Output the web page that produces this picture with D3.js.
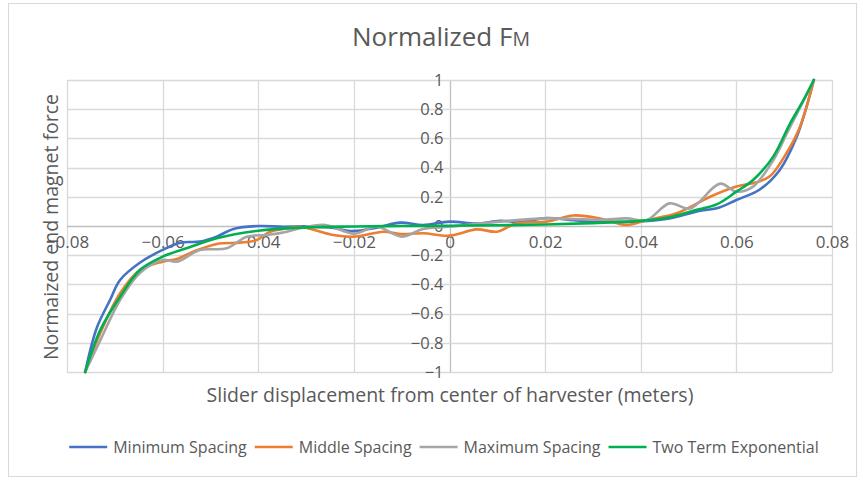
<!DOCTYPE html>
<html>
<head>
<meta charset="utf-8">
<script src="https://cdn.jsdelivr.net/npm/d3@7"></script>
<style>
  body { margin: 0; background: #fff; }
  text { font-family: "Open Sans", sans-serif; fill: #595959; }
</style>
</head>
<body>
<div id="vis"></div>
<script>
// Frame
const FRAME_WIDTH = 865;
const FRAME_HEIGHT = 479;
const MARGINS = {left: 67, right: 33, top: 80, bottom: 107};

const VIS_WIDTH = FRAME_WIDTH - MARGINS.left - MARGINS.right;
const VIS_HEIGHT = FRAME_HEIGHT - MARGINS.top - MARGINS.bottom;

// Data
const xTicks = [-0.08, -0.06, -0.04, -0.02, 0, 0.02, 0.04, 0.06, 0.08];
const yTicks = [-1, -0.8, -0.6, -0.4, -0.2, 0, 0.2, 0.4, 0.6, 0.8, 1];

const minX = [-0.0762, -0.0738, -0.0710, -0.0689, -0.0647, -0.0600, -0.0563, -0.0522, -0.0487, -0.0452,
  -0.0400, -0.0347, -0.0300, -0.0250, -0.0202, -0.0150, -0.0103, -0.0055, 0, 0.0057, 0.0106, 0.0150,
  0.0203, 0.0260, 0.0315, 0.0384, 0.0460, 0.0524, 0.0559, 0.0600, 0.0649, 0.0690, 0.0726, 0.0747, 0.0762];
const minY = [-1, -0.70, -0.507, -0.37, -0.25, -0.164, -0.114, -0.107, -0.073, -0.02,
  0.0, -0.005, -0.003, -0.01, -0.035, -0.01, 0.023, 0.007, 0.03, 0.016, 0.036, 0.028,
  0.055, 0.04, 0.03, 0.03, 0.052, 0.105, 0.121, 0.178, 0.25, 0.38, 0.61, 0.82, 1.0];

const midX = [-0.0762, -0.0730, -0.0689, -0.0647, -0.0600, -0.0570, -0.0536, -0.0487, -0.0438, -0.0403,
  -0.0375, -0.0340, -0.0313, -0.0243, -0.0200, -0.0138, -0.0103, -0.0055, 0, 0.0057, 0.0099, 0.0140,
  0.0203, 0.0259, 0.0315, 0.0370, 0.0412, 0.0475, 0.0545, 0.0600, 0.0642, 0.0670, 0.0705, 0.0733, 0.0762];
const midY = [-1, -0.73, -0.46, -0.30, -0.244, -0.226, -0.176, -0.123, -0.114, -0.096,
  -0.039, -0.016, -0.005, -0.062, -0.073, -0.039, -0.055, -0.05, -0.066, -0.023, -0.039, 0.018,
  0.03, 0.072, 0.052, 0.007, 0.04, 0.087, 0.20, 0.27, 0.30, 0.34, 0.50, 0.68, 1.0];

const maxX = [-0.0762, -0.0730, -0.0689, -0.0647, -0.0600, -0.0570, -0.0522, -0.0466, -0.0424, -0.0382,
  -0.0340, -0.0313, -0.0260, -0.0200, -0.0152, -0.0100, -0.0055, 0, 0.0106, 0.0203, 0.0315, 0.0370,
  0.0412, 0.0460, 0.0503, 0.0566, 0.0600, 0.0635, 0.0677, 0.0705, 0.0733, 0.0762];
const maxY = [-1, -0.78, -0.507, -0.32, -0.233, -0.244, -0.164, -0.153, -0.073, -0.062,
  -0.039, -0.016, 0.007, -0.052, -0.005, -0.073, -0.02, -0.005, 0.03, 0.052, 0.043, 0.052,
  0.04, 0.155, 0.12, 0.29, 0.235, 0.27, 0.45, 0.63, 0.81, 1.0];

const expX = [-0.0762, -0.0730, -0.0689, -0.0647, -0.0600, -0.0550, -0.0487, -0.0400, -0.0313, -0.0200,
  -0.0100, 0, 0.0100, 0.0200, 0.0300, 0.0400, 0.0460, 0.0510, 0.0560, 0.0600, 0.0635, 0.0677,
  0.0712, 0.0740, 0.0762];
const expY = [-1, -0.71, -0.484, -0.30, -0.21, -0.153, -0.084, -0.032, -0.011, -0.003,
  0.0, 0.002, 0.005, 0.01, 0.02, 0.035, 0.06, 0.105, 0.15, 0.235, 0.315, 0.475,
  0.70, 0.86, 1.0];

const seriesNames = ["Minimum Spacing", "Middle Spacing", "Maximum Spacing", "Two Term Exponential"];
const seriesColors = ["#4472C4", "#ED7D31", "#A5A5A5", "#00B050"];

const series = [
  {name: seriesNames[0], color: seriesColors[0], pts: d3.zip(minX, minY)},
  {name: seriesNames[1], color: seriesColors[1], pts: d3.zip(midX, midY)},
  {name: seriesNames[2], color: seriesColors[2], pts: d3.zip(maxX, maxY)},
  {name: seriesNames[3], color: seriesColors[3], pts: d3.zip(expX, expY)}
];

const FRAME = d3.select("#vis")
                .append("svg")
                  .attr("width", FRAME_WIDTH)
                  .attr("height", FRAME_HEIGHT);

// chart border
FRAME.append("rect")
      .attr("x", 8.5).attr("y", 3.5)
      .attr("width", 848).attr("height", 473)
      .attr("fill", "#fff")
      .attr("stroke", "#D9D9D9");

const X_SCALE = d3.scaleLinear()
                  .domain([-0.08, 0.08])
                  .range([0, VIS_WIDTH]);

const Y_SCALE = d3.scaleLinear()
                  .domain([-1, 1])
                  .range([VIS_HEIGHT, 0]);

const G = FRAME.append("g")
               .attr("transform", "translate(" + MARGINS.left + "," + MARGINS.top + ")");

// gridlines
G.selectAll(".vgrid")
  .data(xTicks)
  .enter()
  .append("line")
    .attr("x1", d => Math.round(X_SCALE(d)) + 0.5)
    .attr("x2", d => Math.round(X_SCALE(d)) + 0.5)
    .attr("y1", 0).attr("y2", VIS_HEIGHT)
    .attr("stroke", d => d === 0 ? "#BFBFBF" : "#D9D9D9")
    .attr("stroke-width", 1.3);

G.selectAll(".hgrid")
  .data(yTicks)
  .enter()
  .append("line")
    .attr("x1", 0).attr("x2", VIS_WIDTH)
    .attr("y1", d => Math.round(Y_SCALE(d)) + 0.5)
    .attr("y2", d => Math.round(Y_SCALE(d)) + 0.5)
    .attr("stroke", d => d === 0 ? "#BFBFBF" : "#D9D9D9")
    .attr("stroke-width", 1.3);

// x tick labels sit under the y=0 axis
const xAxis = G.append("g")
  .attr("transform", "translate(0," + Y_SCALE(0) + ")")
  .call(d3.axisBottom(X_SCALE).tickValues(xTicks).tickSize(0).tickPadding(10)
          .tickFormat(d => d3.format("")(+d.toFixed(2))));
xAxis.select(".domain").remove();
xAxis.selectAll("text")
  .attr("font-size", "17px")
  .attr("fill", "#595959")
  .attr("font-family", "Open Sans, sans-serif");

// y tick labels next to the x=0 axis
const yAxis = G.append("g")
  .attr("transform", "translate(" + X_SCALE(0) + ",0)")
  .call(d3.axisLeft(Y_SCALE).tickValues(yTicks).tickSize(0).tickPadding(6)
          .tickFormat(d => d3.format("")(+d.toFixed(1))));
yAxis.select(".domain").remove();
yAxis.selectAll("text")
  .attr("font-size", "16.5px")
  .attr("fill", "#595959")
  .attr("font-family", "Open Sans, sans-serif");

// series lines
const line = d3.line()
  .x(d => X_SCALE(d[0]))
  .y(d => Y_SCALE(d[1]))
  .curve(d3.curveCatmullRom.alpha(0.5));

G.selectAll(".series")
  .data(series)
  .enter()
  .append("path")
    .attr("d", d => line(d.pts))
    .attr("fill", "none")
    .attr("stroke", d => d.color)
    .attr("stroke-width", 2.6)
    .attr("stroke-linecap", "round")
    .attr("stroke-linejoin", "round");

// title
const title = FRAME.append("text")
  .attr("x", 441).attr("y", 46)
  .attr("text-anchor", "middle")
  .attr("font-size", "26px");
title.append("tspan").text("Normalized F");
title.append("tspan").attr("font-size", "19.5px").text("M");

// axis titles
FRAME.append("text")
  .attr("x", 450).attr("y", 402)
  .attr("text-anchor", "middle")
  .attr("font-size", "19.5px")
  .text("Slider displacement from center of harvester (meters)");

FRAME.append("text")
  .attr("transform", "translate(58,227) rotate(-90)")
  .attr("text-anchor", "middle")
  .attr("font-size", "19.5px")
  .text("Normaized end magnet force");

// legend: lay out items from measured text widths, centred
const LEG_LINE = 38, LEG_GAP = 6, LEG_SPACE = 8;
const legend = FRAME.append("g");
const items = legend.selectAll(".legend")
  .data(series)
  .enter()
  .append("g");

items.append("line")
  .attr("x1", 0).attr("x2", LEG_LINE)
  .attr("stroke", d => d.color)
  .attr("stroke-width", 2.6);

items.append("text")
  .attr("x", LEG_LINE + LEG_GAP).attr("y", 6)
  .attr("font-size", "16px")
  .text(d => d.name);

let pos = 0;
const offsets = [];
items.each(function() {
  offsets.push(pos);
  const w = this.querySelector("text").getComputedTextLength();
  pos += LEG_LINE + LEG_GAP + w + LEG_SPACE;
});
const total = pos - LEG_SPACE;
items.attr("transform", (d, i) => "translate(" + offsets[i] + ",0)");
legend.attr("transform", "translate(" + (444 - total / 2) + ",447)");
</script>
</body>
</html>
